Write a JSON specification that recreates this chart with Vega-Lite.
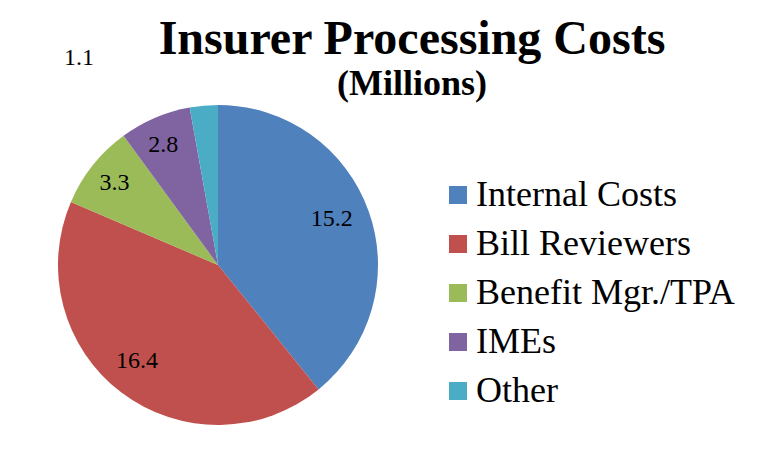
{
  "$schema": "https://vega.github.io/schema/vega-lite/v6.json",
  "width": 436,
  "height": 370,
  "autosize": {"type": "none"},
  "padding": {"left": 0, "top": 80, "right": 343, "bottom": 0},
  "background": "white",
  "title": {
    "text": "Insurer Processing Costs",
    "subtitle": "(Millions)",
    "font": "Liberation Serif",
    "fontSize": 48,
    "fontWeight": "bold",
    "color": "black",
    "subtitleFont": "Liberation Serif",
    "subtitleFontSize": 36,
    "subtitleFontWeight": "bold",
    "subtitleColor": "black",
    "anchor": "middle",
    "frame": "group",
    "dx": 194,
    "offset": -56,
    "subtitlePadding": 3
  },
  "data": {
    "values": [
      {"category": "Internal Costs", "value": 15.2, "rank": 1},
      {"category": "Bill Reviewers", "value": 16.4, "rank": 2},
      {"category": "Benefit Mgr./TPA", "value": 3.3, "rank": 3},
      {"category": "IMEs", "value": 2.8, "rank": 4},
      {"category": "Other", "value": 1.1, "rank": 5}
    ]
  },
  "encoding": {
    "theta": {"field": "value", "type": "quantitative", "stack": true},
    "order": {"field": "rank", "type": "quantitative"},
    "color": {
      "field": "category",
      "type": "nominal",
      "sort": ["Internal Costs", "Bill Reviewers", "Benefit Mgr./TPA", "IMEs", "Other"],
      "scale": {
        "domain": ["Internal Costs", "Bill Reviewers", "Benefit Mgr./TPA", "IMEs", "Other"],
        "range": ["#4F81BD", "#C0504D", "#9BBB59", "#8064A2", "#4BACC6"]
      },
      "legend": {
        "orient": "none",
        "legendX": 440,
        "legendY": 97,
        "title": null,
        "symbolType": "square",
        "symbolSize": 324,
        "symbolStrokeWidth": 0,
        "labelFont": "Liberation Serif",
        "labelFontSize": 36,
        "labelColor": "black",
        "labelLimit": 400,
        "labelOffset": 0,
        "rowPadding": 13,
        "padding": 0
      }
    }
  },
  "layer": [
    {"mark": {"type": "arc", "outerRadius": 160}},
    {
      "mark": {"type": "text", "radius": 126, "dx": -5, "dy": -4, "font": "Liberation Serif", "fontSize": 24},
      "encoding": {
        "color": {"value": "black"},
        "text": {"condition": {"test": "datum.category !== 'Other'", "field": "value", "type": "quantitative"}, "value": ""}
      }
    },
    {
      "mark": {"type": "text", "radius": 249, "thetaOffset": -0.503, "font": "Liberation Serif", "fontSize": 24},
      "encoding": {
        "color": {"value": "black"},
        "text": {"condition": {"test": "datum.category === 'Other'", "field": "value", "type": "quantitative"}, "value": ""}
      }
    }
  ],
  "config": {"view": {"stroke": null}}
}
